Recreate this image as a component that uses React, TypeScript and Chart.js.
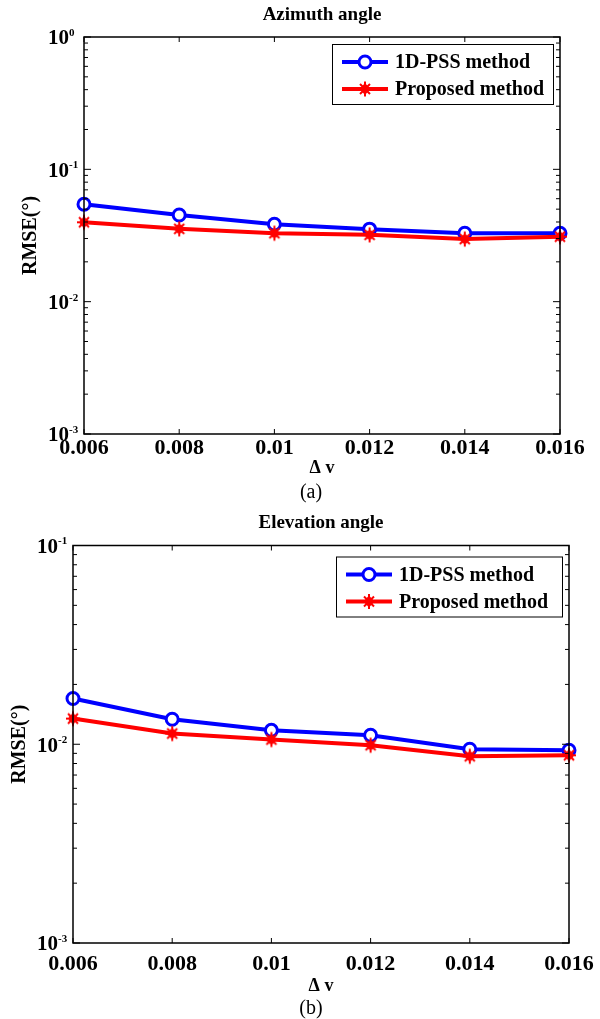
import React, { useEffect, useRef } from 'react';
import { Chart, registerables } from 'chart.js';

Chart.register(...registerables);

// ---- data ----
const xValues = [0.006, 0.008, 0.01, 0.012, 0.014, 0.016];
const xTickLabels = ['0.006', '0.008', '0.01', '0.012', '0.014', '0.016'];
const seriesLabels = ['1D-PSS method', 'Proposed method'];
const azimuthPSS = [0.0545, 0.0452, 0.0385, 0.0353, 0.0329, 0.0329];
const azimuthProposed = [0.0398, 0.0355, 0.0329, 0.032, 0.0297, 0.031];
const elevationPSS = [0.017, 0.01336, 0.01175, 0.0111, 0.00944, 0.00933];
const elevationProposed = [0.01346, 0.01132, 0.01056, 0.00989, 0.0087, 0.0088];
const azimuthYExponents = [0, -1, -2, -3];
const elevationYExponents = [-1, -2, -3];

const SERIF = '"Liberation Serif", "Times New Roman", serif';
const BLUE = '#0000ff';
const RED = '#ff0000';

function drawStarBlob(ctx: CanvasRenderingContext2D, mx: number, my: number) {
  ctx.save();
  ctx.fillStyle = RED;
  ctx.strokeStyle = RED;
  ctx.beginPath();
  ctx.moveTo(mx, my - 6);
  ctx.lineTo(mx + 5.5, my);
  ctx.lineTo(mx, my + 6);
  ctx.lineTo(mx - 5.5, my);
  ctx.closePath();
  ctx.fill();
  ctx.lineWidth = 2;
  ctx.beginPath();
  ctx.moveTo(mx, my - 7.5);
  ctx.lineTo(mx, my + 7.5);
  ctx.moveTo(mx - 7, my);
  ctx.lineTo(mx + 7, my);
  ctx.moveTo(mx - 5, my - 5);
  ctx.lineTo(mx + 5, my + 5);
  ctx.moveTo(mx - 5, my + 5);
  ctx.lineTo(mx + 5, my - 5);
  ctx.stroke();
  ctx.restore();
}

let starMarker: HTMLCanvasElement | null = null;
function getStarMarker() {
  if (starMarker) return starMarker;
  const c = document.createElement('canvas');
  c.width = 18;
  c.height = 18;
  const cx = c.getContext('2d')!;
  drawStarBlob(cx, 9, 9);
  starMarker = c;
  return c;
}

type PanelCfg = {
  title: string;
  sub: string;
  exps: number[];
  yMin: number;
  yMax: number;
  pss: number[];
  prop: number[];
  height: number;
  padding: { left: number; top: number; right: number; bottom: number };
  titleY: number;
  yLabelX: number;
  xLabelOffset: number;
  deltaOffset: number;
  subOffset: number;
  subX: number;
  legendW: number;
  legendTop: number;
};

function makePlugin(cfg: PanelCfg) {
  return {
    id: 'matlabAxes',
    afterDraw(chart: any) {
      const ctx: CanvasRenderingContext2D = chart.ctx;
      const { left, top, right, bottom } = chart.chartArea;
      const xs = chart.scales.x;
      const ys = chart.scales.y;
      ctx.save();
      ctx.strokeStyle = '#000';
      ctx.fillStyle = '#000';
      ctx.lineWidth = 1.5;
      ctx.strokeRect(left, top, right - left, bottom - top);
      const seg = (x1: number, y1: number, x2: number, y2: number) => {
        ctx.beginPath();
        ctx.moveTo(x1, y1);
        ctx.lineTo(x2, y2);
        ctx.stroke();
      };
      ctx.lineWidth = 1;
      // x ticks & labels
      ctx.font = `bold 22px ${SERIF}`;
      ctx.textAlign = 'center';
      ctx.textBaseline = 'top';
      xValues.forEach((v, i) => {
        const px = xs.getPixelForValue(v);
        seg(px, bottom, px, bottom - 5);
        seg(px, top, px, top + 5);
        ctx.fillText(xTickLabels[i], px, bottom + cfg.xLabelOffset);
      });
      // y ticks (log, minor)
      const eMax = Math.round(Math.log10(cfg.yMax));
      const eMin = Math.round(Math.log10(cfg.yMin));
      for (let e = eMin; e <= eMax; e++) {
        for (let m = 1; m <= 9; m++) {
          const v = m * Math.pow(10, e);
          if (v > cfg.yMax * 1.0001) break;
          const py = ys.getPixelForValue(v);
          const len = m === 1 ? 7 : 4;
          seg(left, py, left + len, py);
          seg(right, py, right - len, py);
        }
      }
      // y labels
      cfg.exps.forEach((e) => {
        const py = ys.getPixelForValue(Math.pow(10, e));
        ctx.textBaseline = 'middle';
        ctx.font = `bold 21px ${SERIF}`;
        ctx.textAlign = 'right';
        ctx.fillText('10', left - 15, py + 2);
        ctx.font = `bold 11px ${SERIF}`;
        ctx.textAlign = 'left';
        ctx.fillText(String(e), left - 15, py - 4);
      });
      // title
      const cx = (left + right) / 2;
      ctx.font = `bold 19px ${SERIF}`;
      ctx.textAlign = 'center';
      ctx.textBaseline = 'middle';
      ctx.fillText(cfg.title, cx, cfg.titleY);
      // x label
      ctx.font = `bold 18px ${SERIF}`;
      ctx.fillText('Δ v', cx, bottom + cfg.deltaOffset);
      // sub label
      ctx.font = `20px ${SERIF}`;
      ctx.fillText(cfg.sub, cfg.subX, bottom + cfg.subOffset);
      // y label
      ctx.save();
      ctx.translate(cfg.yLabelX, (top + bottom) / 2);
      ctx.rotate(-Math.PI / 2);
      ctx.font = `bold 20px ${SERIF}`;
      ctx.fillText('RMSE(°)', 0, 0);
      ctx.restore();
      // legend
      const lw = cfg.legendW;
      const lh = 60;
      const lx = right - 7 - lw;
      const ly = top + cfg.legendTop;
      ctx.fillStyle = '#fff';
      ctx.fillRect(lx, ly, lw, lh);
      ctx.strokeStyle = '#000';
      ctx.lineWidth = 1;
      ctx.strokeRect(lx + 0.5, ly + 0.5, lw, lh);
      const rows = [
        { label: seriesLabels[0], color: BLUE, style: 'circle' },
        { label: seriesLabels[1], color: RED, style: 'star' },
      ];
      rows.forEach((r, i) => {
        const ry = ly + 18 + i * 27;
        ctx.strokeStyle = r.color;
        ctx.lineWidth = 4;
        seg(lx + 10, ry, lx + 56, ry);
        const mx = lx + 33;
        if (r.style === 'circle') {
          ctx.fillStyle = '#fff';
          ctx.lineWidth = 3;
          ctx.beginPath();
          ctx.arc(mx, ry, 6, 0, Math.PI * 2);
          ctx.fill();
          ctx.stroke();
        } else {
          drawStarBlob(ctx, mx, ry);
        }
        ctx.fillStyle = '#000';
        ctx.font = `bold 20px ${SERIF}`;
        ctx.textAlign = 'left';
        ctx.textBaseline = 'middle';
        ctx.fillText(r.label, lx + 63, ry + 1);
      });
      ctx.restore();
    },
  };
}

function Panel({ cfg }: { cfg: PanelCfg }) {
  const ref = useRef<HTMLCanvasElement>(null);
  useEffect(() => {
    if (!ref.current) return;
    const chart = new Chart(ref.current, {
      type: 'line',
      data: {
        datasets: [
          {
            label: seriesLabels[0],
            data: xValues.map((x, i) => ({ x, y: cfg.pss[i] })),
            borderColor: BLUE,
            backgroundColor: '#fff',
            borderWidth: 4,
            pointStyle: 'circle',
            pointRadius: 6,
            pointBorderWidth: 3,
            pointBorderColor: BLUE,
            pointBackgroundColor: '#fff',
            tension: 0,
            clip: false as any,
            order: 1,
          },
          {
            label: seriesLabels[1],
            data: xValues.map((x, i) => ({ x, y: cfg.prop[i] })),
            borderColor: RED,
            backgroundColor: RED,
            borderWidth: 4,
            pointStyle: getStarMarker(),
            pointRadius: 7,
            tension: 0,
            clip: false as any,
            order: 0,
          },
        ],
      },
      options: {
        responsive: false,
        animation: false,
        layout: { padding: cfg.padding },
        scales: {
          x: { type: 'linear', min: 0.006, max: 0.016, display: false },
          y: { type: 'logarithmic', min: cfg.yMin, max: cfg.yMax, display: false },
        },
        plugins: {
          legend: { display: false },
          tooltip: { enabled: false },
          title: { display: false },
        },
      },
      plugins: [makePlugin(cfg)],
    } as any);
    return () => chart.destroy();
  }, [cfg]);
  return <canvas ref={ref} width={600} height={cfg.height} style={{ display: 'block' }} />;
}

const cfgA: PanelCfg = {
  title: 'Azimuth angle',
  sub: '(a)',
  exps: azimuthYExponents,
  yMin: 1e-3,
  yMax: 1,
  pss: azimuthPSS,
  prop: azimuthProposed,
  height: 505,
  padding: { left: 84, top: 37, right: 40, bottom: 71 },
  titleY: 15,
  yLabelX: 31,
  xLabelOffset: 3,
  deltaOffset: 34,
  subOffset: 59,
  subX: 311,
  legendW: 221,
  legendTop: 7,
};

const cfgB: PanelCfg = {
  title: 'Elevation angle',
  sub: '(b)',
  exps: elevationYExponents,
  yMin: 1e-3,
  yMax: 1e-1,
  pss: elevationPSS,
  prop: elevationProposed,
  height: 514,
  padding: { left: 73, top: 40.5, right: 31, bottom: 76 },
  titleY: 18,
  yLabelX: 20,
  xLabelOffset: 10,
  deltaOffset: 43,
  subOffset: 66,
  subX: 311,
  legendW: 226,
  legendTop: 11,
};

export default function App() {
  return (
    <div style={{ position: 'absolute', left: 0, top: 0, width: 600, height: 1019, background: '#fff' }}>
      <Panel cfg={cfgA} />
      <Panel cfg={cfgB} />
    </div>
  );
}
